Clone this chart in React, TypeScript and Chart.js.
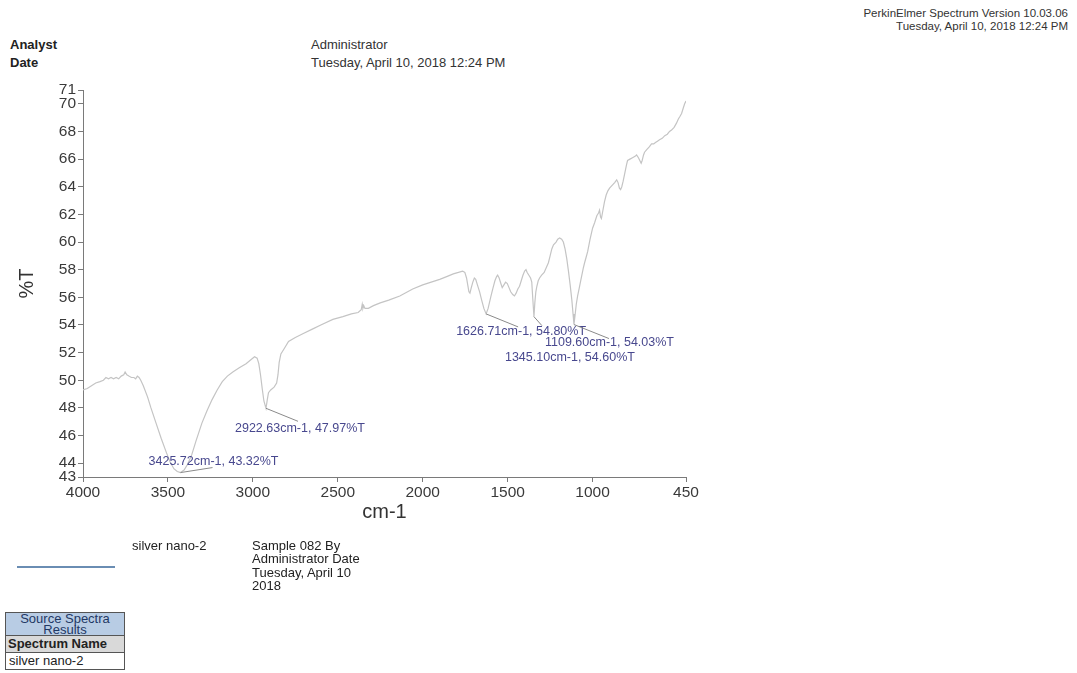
import React, { useEffect, useRef } from "react";
import { Chart, registerables } from "chart.js";

Chart.register(...registerables);

// ---- data ----
const wavenumbers = [
  4000, 3975, 3950, 3925, 3900, 3880, 3865, 3850, 3835, 3820, 3805, 3790, 3775, 3760, 3752, 3742, 3730, 3715, 3700, 3690,
  3680, 3670, 3660, 3645, 3620, 3600, 3570, 3540, 3510, 3488, 3465, 3445, 3425.72, 3405, 3385, 3360, 3335, 3300, 3270, 3240,
  3210, 3180, 3150, 3118, 3080, 3040, 3010, 2990, 2975, 2965, 2955, 2945, 2935, 2922.63, 2915, 2908, 2895, 2875, 2860, 2852,
  2845, 2835, 2815, 2790, 2750, 2700, 2650, 2600, 2529, 2470, 2420, 2380, 2362, 2356, 2352, 2347, 2340, 2320, 2290, 2250,
  2200, 2135, 2059, 2000, 1950, 1900, 1859, 1820, 1790, 1765, 1752, 1742, 1735, 1728, 1722, 1714, 1705, 1696, 1688, 1678,
  1665, 1653, 1640, 1626.71, 1615, 1600, 1588, 1575, 1565, 1559, 1550, 1540, 1532, 1522, 1512, 1502, 1492, 1482, 1470, 1460,
  1450, 1440, 1430, 1420, 1410, 1400, 1392, 1385, 1375, 1365, 1358, 1352, 1345.1, 1340, 1334, 1328, 1320, 1312, 1300, 1285,
  1271, 1260, 1250, 1240, 1230, 1215, 1205, 1194, 1182, 1172, 1162, 1152, 1142, 1132, 1122, 1115, 1109.6, 1103, 1096, 1088,
  1078, 1065, 1055, 1047, 1038, 1029, 1015, 1000, 988, 975, 965, 959, 953, 948, 942, 930, 920, 910, 900, 885,
  870, 858, 850, 842, 835, 828, 820, 810, 800, 794, 780, 765, 750, 741, 730, 722, 714, 708, 700, 694,
  680, 665, 653, 640, 630, 618, 606, 590, 575, 560, 547, 535, 520, 506, 495, 485, 476, 466, 458, 450,
];
const transmittance = [
  49.3, 49.4, 49.6, 49.8, 49.9, 50.0, 50.2, 50.1, 50.2, 50.1, 50.2, 50.1, 50.3, 50.4, 50.6, 50.4, 50.3, 50.2, 50.2, 50.1,
  50.3, 50.2, 50.0, 49.6, 48.8, 48.0, 46.9, 45.8, 44.8, 44.1, 43.6, 43.4, 43.32, 43.5, 43.9, 44.6, 45.6, 46.9, 47.8, 48.6,
  49.3, 49.9, 50.3, 50.6, 50.9, 51.2, 51.5, 51.7, 51.6, 51.2, 50.4, 49.4, 48.5, 47.97, 48.6, 49.1, 49.3, 49.5, 49.8, 50.4,
  51.3, 51.9, 52.3, 52.8, 53.1, 53.4, 53.7, 54.0, 54.4, 54.6, 54.8, 54.9, 55.1, 55.5, 55.2, 55.4, 55.2, 55.2, 55.4, 55.6,
  55.8, 56.1, 56.6, 56.9, 57.1, 57.3, 57.5, 57.7, 57.8, 57.9, 57.8, 57.4, 56.9, 56.4, 56.3, 56.7, 57.1, 57.4, 57.3, 56.9,
  56.4, 55.8, 55.2, 54.8, 55.2, 56.0, 56.6, 57.2, 57.5, 57.6, 57.4, 57.0, 56.7, 56.9, 57.1, 57.0, 56.7, 56.4, 56.2, 56.1,
  56.3, 56.6, 56.8, 57.2, 57.6, 57.9, 58.0, 57.8, 57.6, 57.4, 57.1, 55.9, 54.6, 55.6, 56.4, 56.8, 57.2, 57.4, 57.6, 57.8,
  58.2, 58.5, 59.0, 59.5, 59.8, 60.0, 60.2, 60.3, 60.2, 60.0, 59.5, 58.8, 57.9, 56.9, 55.8, 54.8, 54.03, 54.7, 55.5, 56.1,
  56.7, 57.5, 58.1, 58.5, 58.9, 59.3, 60.2, 61.0, 61.4, 61.9, 62.1, 62.3, 61.8, 61.7, 62.1, 62.9, 63.4, 63.7, 63.9, 64.1,
  64.3, 64.5, 64.3, 63.9, 63.8, 64.0, 64.4, 65.0, 65.6, 65.9, 66.0, 66.1, 66.2, 66.3, 66.1, 65.9, 65.7, 65.9, 66.3, 66.5,
  66.7, 66.9, 67.1, 67.1, 67.2, 67.3, 67.4, 67.5, 67.7, 67.8, 68.0, 68.1, 68.3, 68.6, 68.9, 69.1, 69.3, 69.7, 70.0, 70.2,
];

const peakWavenumbers = [3425.72, 2922.63, 1626.71, 1345.1, 1109.6];
const peakTransmittance = [43.32, 47.97, 54.8, 54.6, 54.03];

const xTickValues = [4000, 3500, 3000, 2500, 2000, 1500, 1000, 450];
const yTickValues = [43, 44, 46, 48, 50, 52, 54, 56, 58, 60, 62, 64, 66, 68, 70, 71];

const seriesName = "silver nano-2";
const xTitle = "cm-1";
const yTitle = "%T";

// label placement (pixel offsets from each peak point)
const peakLabelOffsets = [
  { lx: 32, ly: -5, tx: -32, ty: -11 },
  { lx: 32, ly: 13, tx: -31, ty: 20 },
  { lx: 32, ly: 13, tx: -30, ty: 18 },
  { lx: 8, ly: 9, tx: -29, ty: 41 },
  { lx: 35, ly: 14, tx: -29, ty: 18 },
];

const FONT = '"Liberation Sans", Arial, Helvetica, sans-serif';

const peakLabelPlugin = {
  id: "peakLabels",
  afterDatasetsDraw(chart: any) {
    const { ctx, scales } = chart;
    const xs = scales.x;
    const ys = scales.y;
    ctx.save();
    peakWavenumbers.forEach((wn, i) => {
      const t = peakTransmittance[i];
      const o = peakLabelOffsets[i];
      const px = xs.getPixelForValue(wn);
      const py = ys.getPixelForValue(t);
      ctx.strokeStyle = "#8a8a8a";
      ctx.lineWidth = 1;
      ctx.beginPath();
      ctx.moveTo(px, py);
      ctx.lineTo(px + o.lx, py + o.ly);
      ctx.stroke();
      ctx.fillStyle = "#48488e";
      ctx.font = `12.5px ${FONT}`;
      ctx.textBaseline = "middle";
      ctx.textAlign = "left";
      ctx.fillText(`${wn.toFixed(2)}cm-1, ${t.toFixed(2)}%T`, px + o.tx, py + o.ty);
    });
    ctx.restore();
  },
};

function SpectrumChart() {
  const ref = useRef<HTMLCanvasElement | null>(null);
  useEffect(() => {
    if (!ref.current) return;
    const points = wavenumbers.map((w, i) => ({ x: w, y: transmittance[i] }));
    const chart = new Chart(ref.current, {
      type: "line",
      data: {
        datasets: [
          {
            label: seriesName,
            data: points,
            borderColor: "#c4c4c4",
            borderWidth: 1.2,
            pointRadius: 0,
            tension: 0,
            fill: false,
          },
        ],
      },
      options: {
        responsive: false,
        animation: false,
        events: [],
        layout: { padding: { top: 30, right: 44, left: 0, bottom: 0 } },
        plugins: { legend: { display: false }, tooltip: { enabled: false } },
        scales: {
          x: {
            type: "linear",
            reverse: true,
            min: 450,
            max: 4000,
            afterBuildTicks: (s: any) => {
              s.ticks = xTickValues.map((v) => ({ value: v }));
            },
            afterFit: (s: any) => {
              s.height = 63;
            },
            ticks: {
              autoSkip: false,
              maxRotation: 0,
              padding: 1,
              color: "#3a3a3a",
              font: { family: FONT, size: 15.5 },
              callback: (v: any) => String(v),
            },
            grid: { drawOnChartArea: false, drawTicks: true, tickLength: 5, color: "#7a7a7a" },
            border: { display: true, color: "#7a7a7a" },
            title: {
              display: true,
              text: xTitle,
              color: "#333333",
              font: { family: FONT, size: 20 },
              padding: { top: 0, bottom: 16 },
            },
          },
          y: {
            type: "linear",
            min: 43,
            max: 71,
            afterBuildTicks: (s: any) => {
              s.ticks = yTickValues.map((v) => ({ value: v }));
            },
            afterFit: (s: any) => {
              s.width = 83;
            },
            ticks: {
              autoSkip: false,
              padding: 2,
              color: "#3a3a3a",
              font: { family: FONT, size: 15.5 },
              callback: (v: any) => String(v),
            },
            grid: { drawOnChartArea: false, drawTicks: true, tickLength: 5, color: "#7a7a7a" },
            border: { display: true, color: "#7a7a7a" },
            title: {
              display: true,
              text: yTitle,
              color: "#333333",
              font: { family: FONT, size: 20 },
              padding: { top: 15, bottom: 0 },
            },
          },
        },
      },
      plugins: [peakLabelPlugin],
    } as any);
    return () => chart.destroy();
  }, []);
  return <canvas ref={ref} width={730} height={480} style={{ display: "block" }} />;
}

const abs = (left: number, top: number, extra: any = {}) => ({
  position: "absolute" as const,
  left,
  top,
  whiteSpace: "nowrap" as const,
  fontFamily: FONT,
  ...extra,
});

export default function App() {
  return (
    <div
      style={{
        position: "absolute",
        left: 0,
        top: 0,
        width: 1077,
        height: 673,
        background: "#ffffff",
        overflow: "hidden",
        fontFamily: FONT,
        color: "#222",
      }}
    >
      <div
        style={{
          position: "absolute",
          right: 9,
          top: 7,
          textAlign: "right",
          fontFamily: FONT,
          fontSize: 11.5,
          lineHeight: "13px",
          color: "#333",
          whiteSpace: "nowrap",
        }}
      >
        <div>PerkinElmer Spectrum Version 10.03.06</div>
        <div>Tuesday, April 10, 2018 12:24 PM</div>
      </div>

      <div style={abs(10, 36, { fontSize: 13, fontWeight: "bold", lineHeight: "18px", color: "#222" })}>
        <div>Analyst</div>
        <div>Date</div>
      </div>
      <div style={abs(311, 36, { fontSize: 13, lineHeight: "18px", color: "#333" })}>
        <div>Administrator</div>
        <div>Tuesday, April 10, 2018 12:24 PM</div>
      </div>

      <div style={{ position: "absolute", left: 0, top: 60 }}>
        <SpectrumChart />
      </div>

      {/* legend */}
      <div style={{ position: "absolute", left: 17, top: 566, width: 98, height: 2, background: "#6a8db3" }} />
      <div style={abs(132, 539, { fontSize: 13, lineHeight: "14px", color: "#222" })}>{seriesName}</div>
      <div style={abs(252, 539, { fontSize: 13, lineHeight: "13.3px", color: "#222" })}>
        <div>Sample 082 By</div>
        <div>Administrator Date</div>
        <div>Tuesday, April 10</div>
        <div>2018</div>
      </div>

      {/* source spectra table */}
      <table
        style={{
          position: "absolute",
          left: 5,
          top: 612,
          width: 120,
          borderCollapse: "collapse",
          fontFamily: FONT,
          fontSize: 13,
        }}
      >
        <tbody>
          <tr>
            <td
              style={{
                border: "1px solid #555",
                background: "#b8cce4",
                color: "#1f3864",
                textAlign: "center",
                lineHeight: "11px",
                height: 22,
                padding: 0,
              }}
            >
              Source Spectra
              <br />
              Results
            </td>
          </tr>
          <tr>
            <td
              style={{
                border: "1px solid #555",
                background: "#d9d9d9",
                fontWeight: "bold",
                padding: "0 2px",
                height: 16,
                lineHeight: "16px",
              }}
            >
              Spectrum Name
            </td>
          </tr>
          <tr>
            <td style={{ border: "1px solid #555", padding: "0 3px", height: 16, lineHeight: "16px" }}>{seriesName}</td>
          </tr>
        </tbody>
      </table>
    </div>
  );
}
